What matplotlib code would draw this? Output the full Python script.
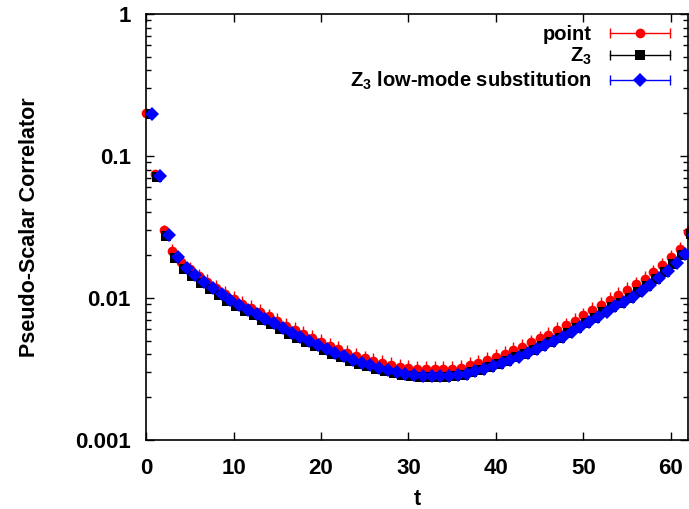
import matplotlib
matplotlib.use("Agg")
import matplotlib.pyplot as plt
import numpy as np
from matplotlib.lines import Line2D
from matplotlib.legend_handler import HandlerLine2D, HandlerTuple

plt.rcParams['font.family'] = ['Liberation Sans', 'DejaVu Sans']
plt.rcParams['font.weight'] = 'bold'
plt.rcParams['mathtext.fontset'] = 'custom'
plt.rcParams['mathtext.rm'] = 'Liberation Sans:bold'
plt.rcParams['mathtext.default'] = 'rm'

# time slices
t = np.arange(63)

# point source
point = [0.200, 0.0747, 0.0301, 0.0214, 0.0179, 0.0160, 0.0143, 0.0130, 0.0118, 0.0107,
         0.00984, 0.00907, 0.00851, 0.00797, 0.00741, 0.00689, 0.00635, 0.00595, 0.00558, 0.00523,
         0.00490, 0.00459, 0.00437, 0.00410, 0.00390, 0.00375, 0.00360, 0.00349, 0.00338, 0.00327,
         0.00321, 0.00316, 0.00316, 0.00316, 0.00316, 0.00318, 0.00321, 0.00335, 0.00349, 0.00366,
         0.00384, 0.00403, 0.00430, 0.00455, 0.00486, 0.00519, 0.00553, 0.00595, 0.00640, 0.00689,
         0.00753, 0.00823, 0.00893, 0.00968, 0.0105, 0.0114, 0.0125, 0.0137, 0.0152, 0.0171,
         0.0194, 0.0221, 0.0292]
point_err = [0.004, 0.003, 0.0028, 0.0026, 0.0023, 0.002, 0.0018, 0.0017, 0.0015, 0.0014,
             0.0013, 0.0012, 0.0011, 0.00105, 0.001, 0.0009, 0.00085, 0.0008, 0.00075, 0.0007,
             0.00066, 0.00062, 0.00059, 0.00056, 0.00053, 0.0005, 0.00049, 0.00047, 0.00046, 0.00045,
             0.00044, 0.00044, 0.00044, 0.00044, 0.00044, 0.00044, 0.00045, 0.00046, 0.00047, 0.00049,
             0.00052, 0.00055, 0.00058, 0.0006, 0.00065, 0.00069, 0.00073, 0.00078, 0.00084, 0.0009,
             0.001, 0.0011, 0.0012, 0.0013, 0.0014, 0.0015, 0.0016, 0.0017, 0.0019, 0.0021,
             0.0024, 0.0027, 0.0035]

# Z3 noise source
z3 = [0.196, 0.0716, 0.0274, 0.0191, 0.0160, 0.0143, 0.0128, 0.0116, 0.0105, 0.00953,
      0.00873, 0.00810, 0.00760, 0.00700, 0.00657, 0.00606, 0.00558, 0.00523, 0.00490, 0.00460,
      0.00430, 0.00404, 0.00384, 0.00360, 0.00344, 0.00333, 0.00316, 0.00304, 0.00294, 0.00287,
      0.00282, 0.00278, 0.00276, 0.00276, 0.00278, 0.00281, 0.00287, 0.00299, 0.00311, 0.00327,
      0.00344, 0.00360, 0.00381, 0.00404, 0.00430, 0.00460, 0.00487, 0.00523, 0.00567, 0.00611,
      0.00668, 0.00724, 0.00791, 0.00858, 0.00923, 0.01001, 0.0110, 0.0121, 0.0136, 0.0153,
      0.0174, 0.0201, 0.0283]
z3_err = [0.002, 0.0008, 0.0004, 0.0003, 0.00025, 0.00022, 0.0002, 0.00018, 0.00016, 0.00015,
          0.00014, 0.00013, 0.00012, 0.00011, 0.0001, 0.0001, 0.00009, 0.00009, 0.00008, 0.00008,
          0.00007, 0.00007, 0.00007, 0.00006, 0.00006, 0.00006, 0.00006, 0.00006, 0.00005, 0.00005,
          0.00005, 0.00005, 0.00005, 0.00005, 0.00005, 0.00005, 0.00005, 0.00005, 0.00006, 0.00006,
          0.00006, 0.00006, 0.00007, 0.00007, 0.00007, 0.00008, 0.00008, 0.00009, 0.0001, 0.0001,
          0.00011, 0.00012, 0.00013, 0.00014, 0.00015, 0.00016, 0.00018, 0.0002, 0.00022, 0.00025,
          0.00028, 0.00032, 0.0004]

# Z3 with low-mode substitution
lowmode = [0.198, 0.0723, 0.0278, 0.0194, 0.0163, 0.0145, 0.0130, 0.0118, 0.0107, 0.00968,
           0.00886, 0.00823, 0.00772, 0.00711, 0.00667, 0.00615, 0.00567, 0.00531, 0.00498, 0.00467,
           0.00437, 0.00410, 0.00390, 0.00366, 0.00349, 0.00338, 0.00321, 0.00309, 0.00299, 0.00292,
           0.00287, 0.00282, 0.00280, 0.00280, 0.00282, 0.00285, 0.00292, 0.00304, 0.00316, 0.00332,
           0.00349, 0.00366, 0.00387, 0.00410, 0.00437, 0.00467, 0.00494, 0.00531, 0.00576, 0.00620,
           0.00678, 0.00735, 0.00803, 0.00871, 0.00937, 0.01016, 0.0112, 0.0123, 0.0138, 0.0155,
           0.0176, 0.0204, 0.0278]
lowmode_err = z3_err

fig = plt.figure(figsize=(6.89, 5.09), dpi=100)
ax = fig.add_axes([0.212, 0.1356, 0.787, 0.837])

# small horizontal shifts so the three series don't sit on top of each other
ax.errorbar(t, point, yerr=point_err, fmt='o', color='red', ms=7, mew=0,
            elinewidth=1, capsize=3, capthick=1, zorder=2, clip_on=False)
ax.errorbar(t + 0.3, z3, yerr=z3_err, fmt='s', color='black', ms=6.5, mew=0,
            elinewidth=1, capsize=3, capthick=1, zorder=3)
ax.errorbar(t + 0.65, lowmode, yerr=lowmode_err, fmt='D', color='blue', ms=7.6, mew=0,
            elinewidth=1, capsize=3, capthick=1, zorder=4)

ax.set_yscale('log')
ax.set_xlim(0, 62)
ax.set_ylim(0.001, 1)
ax.set_xticks([0, 10, 20, 30, 40, 50, 60])
ax.set_yticks([0.001, 0.01, 0.1, 1])
ax.set_yticklabels(['0.001', '0.01', '0.1', '1'])
ax.tick_params(which='both', direction='in', top=True, right=True, labelsize=16, width=1)
ax.tick_params(which='major', length=6)
ax.tick_params(which='minor', length=3.5)
ax.tick_params(axis='y', pad=11)
ax.tick_params(axis='x', pad=13)
for s in ax.spines.values():
    s.set_linewidth(1.2)

ax.set_xlabel('t', fontsize=15.5, fontweight='bold', labelpad=7)
ax.set_ylabel('Pseudo-Scalar Correlator', fontsize=15.5, fontweight='bold', labelpad=25)

# gnuplot style legend: horizontal error bar with marker in the middle
handles = []
hmap = {}
for c, m, ms in [('red', 'o', 7), ('black', 's', 6.5), ('blue', 'D', 7.6)]:
    bar = Line2D([], [], color=c, lw=1, marker='|', ms=7, mew=1)
    mk = Line2D([], [], color=c, lw=0, marker=m, ms=ms, mew=0)
    hmap[bar] = HandlerLine2D(numpoints=2)
    hmap[mk] = HandlerLine2D(numpoints=1)
    handles.append((bar, mk))
hmap[tuple] = HandlerTuple(ndivide=1, pad=0)
leg = ax.legend(handles, ['point', 'Z$_3$', 'Z$_3$ low-mode substitution'],
                handler_map=hmap,
                loc='upper right', bbox_to_anchor=(0.993, 0.994), markerfirst=False,
                frameon=False, fontsize=14.5, handlelength=3.6, handletextpad=0.6,
                labelspacing=0.12, borderaxespad=0)

fig.savefig('out.png', dpi=100)
